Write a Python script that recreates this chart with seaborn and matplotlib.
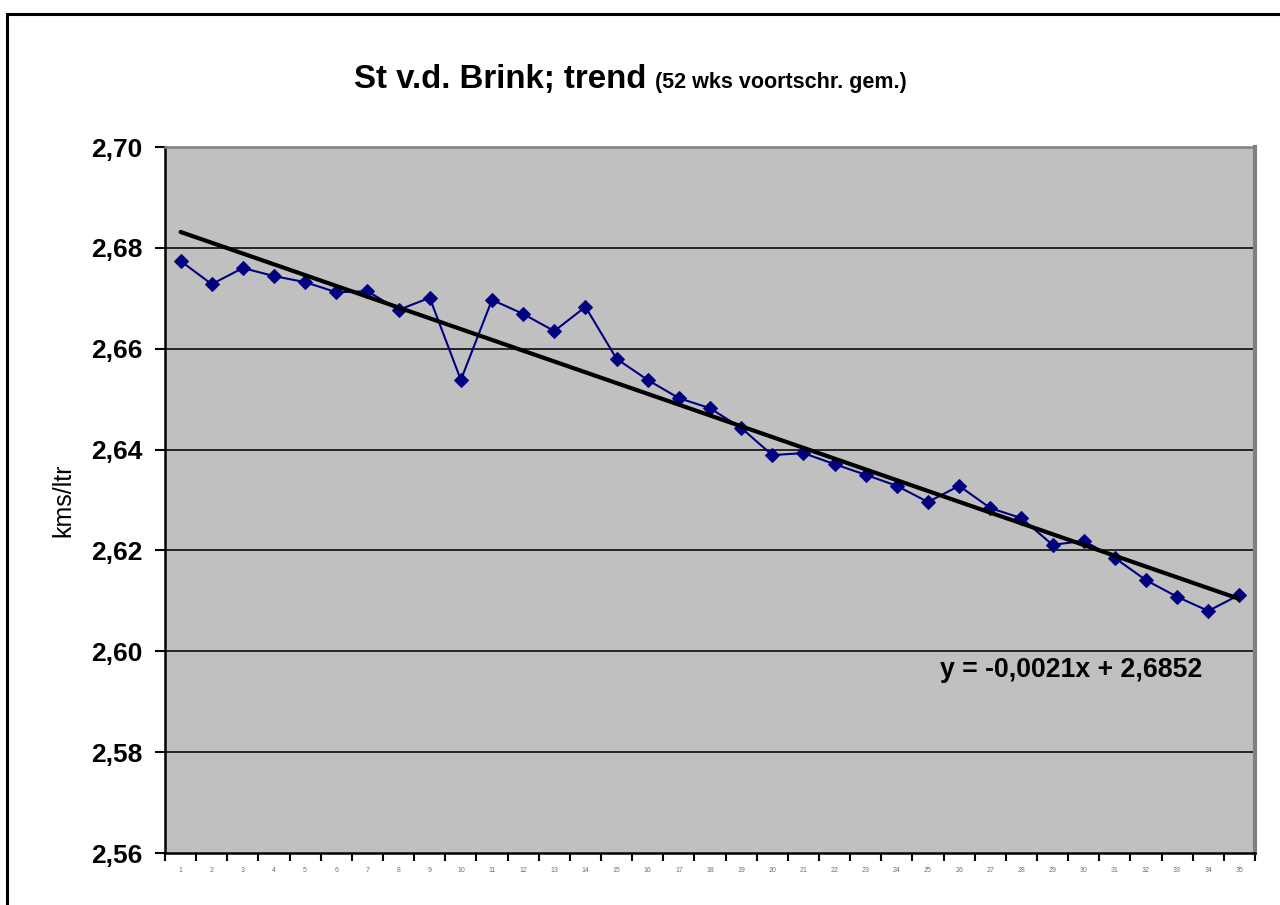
import numpy as np
import pandas as pd
import matplotlib
matplotlib.use("Agg")
import matplotlib.pyplot as plt
from matplotlib.patches import Rectangle
from matplotlib.ticker import FixedLocator, FixedFormatter
import seaborn as sns

# ---- data ----
weeks = list(range(1, 36))
kms_per_ltr = [2.6774, 2.6728, 2.6760, 2.6744, 2.6732, 2.6712, 2.6714, 2.6677, 2.6701, 2.6538,
               2.6697, 2.6669, 2.6635, 2.6683, 2.6580, 2.6538, 2.6502, 2.6482, 2.6443, 2.6389,
               2.6393, 2.6371, 2.6350, 2.6328, 2.6296, 2.6328, 2.6284, 2.6264, 2.6211, 2.6219,
               2.6185, 2.6141, 2.6108, 2.6080, 2.6112]
y_ticks = [2.56, 2.58, 2.60, 2.62, 2.64, 2.66, 2.68, 2.70]
y_tick_labels = ["2,56", "2,58", "2,60", "2,62", "2,64", "2,66", "2,68", "2,70"]
x_tick_labels = [str(w) for w in weeks]
title_main = "St v.d. Brink; trend"
title_sub = "(52 wks voortschr. gem.)"
y_label = "kms/ltr"
equation = "y = -0,0021x + 2,6852"

df = pd.DataFrame({"week": weeks, "kms": kms_per_ltr})

sns.set_theme(style="white")
plt.rcParams['font.family'] = ['Liberation Sans', 'DejaVu Sans']

fig = plt.figure(figsize=(12.8, 9.05), dpi=100)
ax = fig.add_axes([165/1280, 52/905, 1090/1280, 706/905])
ax.set_facecolor("#C0C0C0")

# gridlines
for yv in y_ticks[1:-1]:
    ax.axhline(yv, color="#1a1a1a", lw=1.3, zorder=1)

sns.lineplot(data=df, x="week", y="kms", ax=ax, color="#000080", lw=1.5,
             marker="D", markersize=7.5, markeredgecolor="#000080",
             markerfacecolor="#000080", zorder=3)
sns.regplot(data=df, x="week", y="kms", ax=ax, scatter=False, ci=None,
            line_kws=dict(color="black", lw=3, zorder=4))

ax.set_xlim(0.5, 35.5)
ax.set_ylim(2.56, 2.70)

# y ticks
ax.yaxis.set_major_locator(FixedLocator(y_ticks))
ax.yaxis.set_major_formatter(FixedFormatter(y_tick_labels))
ax.tick_params(axis="y", which="major", direction="out", length=7, width=1.5,
               color="black", labelsize=19, labelcolor="black", pad=9, left=True)
for lab in ax.get_yticklabels():
    lab.set_fontweight("bold")

# x ticks: labels centered, tick marks between categories
ax.xaxis.set_major_locator(FixedLocator(weeks))
ax.xaxis.set_major_formatter(FixedFormatter(x_tick_labels))
ax.xaxis.set_minor_locator(FixedLocator([w + 0.5 for w in [0] + weeks]))
ax.tick_params(axis="x", which="major", length=0, labelsize=5, labelcolor="#707070", pad=10)
ax.tick_params(axis="x", which="minor", direction="out", length=6, width=1.5,
               color="black", bottom=True)

ax.set_xlabel("")
ax.set_ylabel(y_label, fontsize=18, color="black", labelpad=6)
ax.yaxis.set_label_coords(-90/1090, 0.5)

for side in ["left", "bottom"]:
    ax.spines[side].set_color("black")
    ax.spines[side].set_linewidth(1.8)
ax.spines["top"].set_color("#808080")
ax.spines["top"].set_linewidth(1.8)
ax.spines["right"].set_color("#808080")
ax.spines["right"].set_linewidth(3)

ax.text(0.831, 0.259, equation, transform=ax.transAxes, ha="center", va="center",
        fontsize=19.2, fontweight="bold", color="black", zorder=5)

# title
fig.text(646/1280, 1 - 88/905, title_main, ha="right", va="baseline",
         fontsize=23.8, fontweight="bold", color="black")
fig.text(655/1280, 1 - 88/905, title_sub, ha="left", va="baseline",
         fontsize=15.5, fontweight="bold", color="black")

# outer chart frame (right and bottom cut off)
fig.patches.append(Rectangle((7/1280, -0.2), 1.5, (1 - 14/905) + 0.2,
                             transform=fig.transFigure, fill=False,
                             edgecolor="black", lw=2.2, clip_on=False))

fig.savefig("out.png", dpi=100)
